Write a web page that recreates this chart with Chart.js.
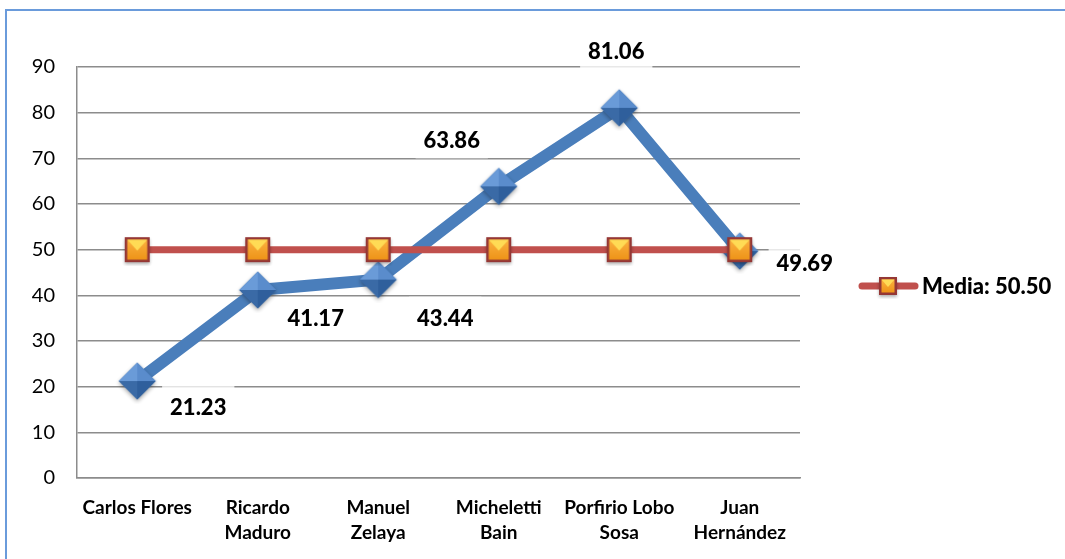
<!DOCTYPE html>
<html>
<head>
<meta charset="utf-8">
<script src="https://cdn.jsdelivr.net/npm/chart.js@4/dist/chart.umd.min.js"></script>
<style>
  body { margin: 0; background: #fff; }
  #wrap { position: relative; width: 1065px; height: 559px; overflow: hidden; }
  #frame { position: absolute; left: 5px; top: 9px; width: 1200px; height: 700px;
           border-left: 2px solid #6A9BDB; border-top: 2px solid #6A9BDB; }
  canvas { position: absolute; left: 0; top: 0; }
</style>
</head>
<body>
<div id="wrap">
  <div id="frame"></div>
  <canvas id="chart" width="1065" height="559"></canvas>
</div>
<script>
const categories = [["Carlos Flores"], ["Ricardo", "Maduro"], ["Manuel", "Zelaya"], ["Micheletti", "Bain"], ["Porfirio Lobo", "Sosa"], ["Juan", "Hernández"]];
const values = [21.23, 41.17, 43.44, 63.86, 81.06, 49.69];
const mediaSeries = [50, 50, 50, 50, 50, 50]; // as plotted in the picture
const mediaLabel = "Media: 50.50";
const yTicks = [0, 10, 20, 30, 40, 50, 60, 70, 80, 90];

// offsets of the value labels from their points (px)
const labelOffsets = [[61, 26], [58, 28], [67, 38], [-47, -46], [-3, -57], [65, 12]];

Chart.defaults.font.family = "Lato, 'Open Sans', sans-serif";

// beveled diamond marker
function makeDiamond() {
  const c = document.createElement("canvas");
  c.width = 46; c.height = 46;
  const g = c.getContext("2d");
  const cx = 23, cy = 23, r = 18.5;
  g.save();
  g.shadowColor = "rgba(0,0,0,0.35)";
  g.shadowBlur = 4;
  g.shadowOffsetY = 2;
  g.beginPath();
  g.moveTo(cx, cy - r); g.lineTo(cx + r, cy); g.lineTo(cx, cy + r); g.lineTo(cx - r, cy);
  g.closePath();
  g.fillStyle = "#3F70AE";
  g.fill();
  g.restore();
  const pts = [[cx, cy - r], [cx + r, cy], [cx, cy + r], [cx - r, cy]];
  const shades = ["#5A8CCC", "#2F5F9C", "#3A6AA6", "#6A9BD8"];
  for (let i = 0; i < 4; i++) {
    const a = pts[i], b = pts[(i + 1) % 4];
    g.beginPath();
    g.moveTo(a[0], a[1]); g.lineTo(b[0], b[1]); g.lineTo(cx, cy);
    g.closePath();
    g.fillStyle = shades[i];
    g.fill();
  }
  return c;
}

// beveled orange square marker
function makeSquare(size) {
  const pad = 4;
  const c = document.createElement("canvas");
  c.width = size + pad * 2; c.height = size + pad * 2;
  const g = c.getContext("2d");
  const x0 = pad, y0 = pad, x1 = pad + size, y1 = pad + size;
  const cx = (x0 + x1) / 2, cy = (y0 + y1) / 2;
  g.save();
  g.shadowColor = "rgba(0,0,0,0.3)";
  g.shadowBlur = 3;
  g.shadowOffsetY = 2;
  g.fillStyle = "#953735";
  g.fillRect(x0, y0, size, size);
  g.restore();
  const b = 2.5;
  const ix0 = x0 + b, iy0 = y0 + b, ix1 = x1 - b, iy1 = y1 - b;
  const grad = g.createLinearGradient(0, iy0, 0, iy1);
  grad.addColorStop(0, "#FBB040");
  grad.addColorStop(1, "#EE9418");
  g.fillStyle = grad;
  g.fillRect(ix0, iy0, ix1 - ix0, iy1 - iy0);
  // yellow top facet
  g.beginPath();
  g.moveTo(ix0, iy0); g.lineTo(ix1, iy0); g.lineTo(cx, cy + 1);
  g.closePath();
  g.fillStyle = "#FFDB55";
  g.fill();
  return c;
}

const diamond = makeDiamond();
const square = makeSquare(25);
const legendSquare = makeSquare(18);

const valueLabels = {
  id: "valueLabels",
  afterDatasetsDraw(chart) {
    const meta = chart.getDatasetMeta(1);
    const ctx = chart.ctx;
    ctx.save();
    ctx.font = "900 22px Lato, 'Open Sans', sans-serif";
    ctx.textAlign = "center";
    ctx.textBaseline = "middle";
    meta.data.forEach((pt, i) => {
      const txt = values[i].toFixed(2);
      const x = pt.x + labelOffsets[i][0];
      const y = pt.y + labelOffsets[i][1];
      const w = ctx.measureText(txt).width + 16;
      ctx.fillStyle = "rgba(255,255,255,0.8)";
      ctx.fillRect(x - w / 2, y - 21, w, 39);
      ctx.fillStyle = "#000";
      ctx.fillText(txt, x, y + 1);
    });
    ctx.restore();
  }
};

const mediaLegend = {
  id: "mediaLegend",
  afterDraw(chart) {
    const ctx = chart.ctx;
    const y = 286;
    ctx.save();
    ctx.strokeStyle = "#C0504D";
    ctx.lineWidth = 7;
    ctx.lineCap = "round";
    ctx.beginPath();
    ctx.moveTo(862, y);
    ctx.lineTo(915, y);
    ctx.stroke();
    ctx.drawImage(legendSquare, 888 - legendSquare.width / 2, y - legendSquare.height / 2);
    ctx.fillStyle = "#000";
    ctx.font = "900 22px Lato, 'Open Sans', sans-serif";
    ctx.textBaseline = "middle";
    ctx.fillText(mediaLabel, 922, y + 1);
    ctx.restore();
  }
};

const ctx = document.getElementById("chart").getContext("2d");
new Chart(ctx, {
  type: "line",
  data: {
    labels: categories,
    datasets: [
      {
        label: mediaLabel,
        data: mediaSeries,
        borderColor: "#C0504D",
        borderWidth: 7,
        pointStyle: square,
        tension: 0
      },
      {
        label: "Valor",
        data: values,
        borderColor: "#4A7EBB",
        borderWidth: 12,
        borderJoinStyle: "round",
        pointStyle: diamond,
        tension: 0
      }
    ]
  },
  options: {
    responsive: false,
    animation: false,
    layout: { padding: { left: 0, top: 67, right: 265, bottom: 0 } },
    plugins: {
      legend: { display: false },
      tooltip: { enabled: false }
    },
    scales: {
      x: {
        offset: true,
        grid: { display: false, drawTicks: false },
        border: { display: true, color: "#8C8C8C", width: 1.5 },
        ticks: {
          color: "#000",
          padding: 17,
          maxRotation: 0,
          autoSkip: false,
          font: { size: 19, weight: "bold", lineHeight: 1.32 }
        },
        afterFit(scale) { scale.height = 81; }
      },
      y: {
        min: 0,
        max: 90,
        afterBuildTicks(scale) { scale.ticks = yTicks.map(v => ({ value: v })); },
        grid: { color: "#8C8C8C", lineWidth: 1.5, drawTicks: false },
        border: { display: true, color: "#8C8C8C", width: 1.5 },
        ticks: { color: "#000", padding: 22, font: { size: 20 } },
        afterFit(scale) { scale.width = 77; }
      }
    }
  },
  plugins: [valueLabels, mediaLegend]
});
</script>
</body>
</html>
